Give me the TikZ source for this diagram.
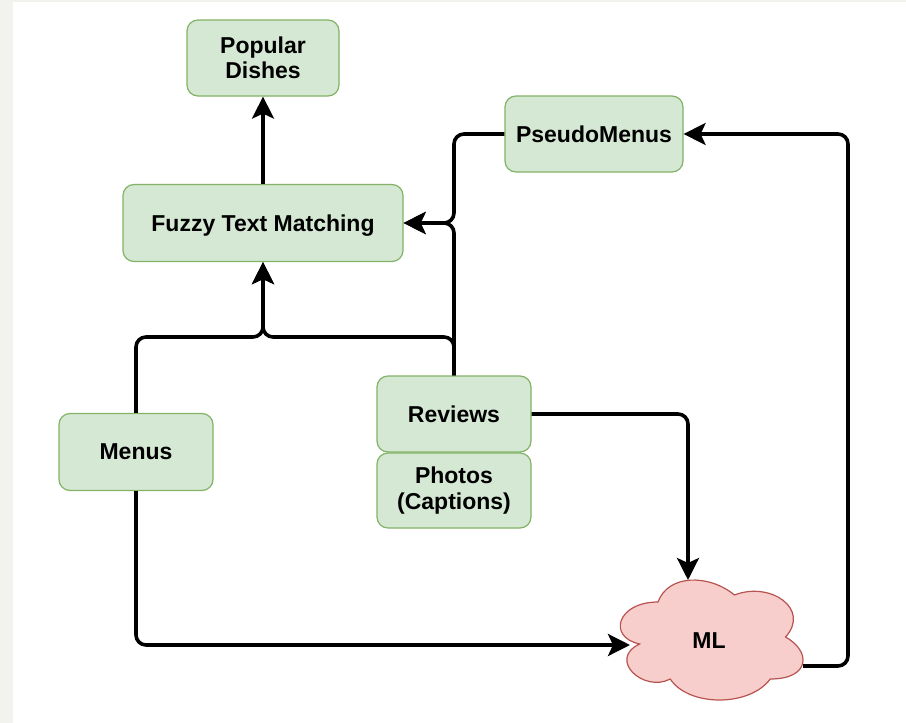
\documentclass[tikz,border=0pt]{standalone}
\usepackage{fontspec}
\setmainfont{Liberation Sans}
\usetikzlibrary{arrows.meta}
\definecolor{boxfill}{HTML}{D5E8D4}
\definecolor{boxline}{HTML}{82B366}
\definecolor{cloudfill}{HTML}{F8CECC}
\definecolor{cloudline}{HTML}{B85450}
\definecolor{marginstrip}{HTML}{F2F2EE}
\begin{document}
\begin{tikzpicture}[x=1pt,y=-1pt,
  stepbox/.style={draw=boxline, fill=boxfill, line width=1.2pt,
    rounded corners=11pt, inner sep=0pt, align=center,
    font=\fontsize{23}{25.5}\selectfont\bfseries},
  oneline/.style={text depth=0pt},
  conn/.style={line width=3.6pt, rounded corners=10pt,
    -{Stealth[length=22pt 0 0,width=22pt 0 0,inset=5pt 0]}}]
  % canvas and the thin grey margin on the left and top
  \useasboundingbox (0,0) rectangle (906,723);
  \fill[white] (0,0) rectangle (906,723);
  \fill[marginstrip] (0,0) rectangle (13,723);
  \fill[marginstrip] (0,0) rectangle (906,2);

  % boxes
  \node[stepbox, minimum width=152pt, minimum height=76pt] (popular) at (263,58) {Popular\\Dishes};
  \node[stepbox, oneline, minimum width=280pt, minimum height=77pt] (fuzzy) at (263,223) {Fuzzy Text Matching};
  \node[stepbox, oneline, minimum width=178pt, minimum height=76pt] (pseudo) at (594,134) {PseudoMenus};
  \node[stepbox, oneline, minimum width=154pt, minimum height=77pt] (menus) at (136,452) {Menus};
  \node[stepbox, oneline, minimum width=154pt, minimum height=76pt] (reviews) at (454,414) {Reviews};
  \node[stepbox, minimum width=154pt, minimum height=75pt] (photos) at (454,490.5) {Photos\\(Captions)};

  % cloud for the ML step
  \draw[fill=cloudfill, draw=cloudline, line width=1.2pt]
    (658,602) .. controls (617.2,602) and (607,637) .. (639.64,644)
    .. controls (607,659.4) and (643.72,693) .. (670.24,679)
    .. controls (688.6,707) and (749.8,707) .. (770.2,679)
    .. controls (811,679) and (811,651) .. (785.5,637)
    .. controls (811,609) and (770.2,581) .. (734.5,595)
    .. controls (709,574) and (668.2,574) .. (658,602) -- cycle;
  \node[font=\fontsize{23}{25.5}\selectfont\bfseries, text depth=0pt] (ml) at (709,641) {ML};
  \coordinate (ml-n) at (688,580);
  \coordinate (ml-w) at (630,645);
  \coordinate (ml-e) at (803,666);

  % junction points of the merged connectors
  \coordinate (join) at (263,337);
  \coordinate (bend) at (reviews.north |- fuzzy.east);

  % connectors
  \draw[conn] (fuzzy.north) -- (popular.south);
  \draw[conn] (menus.north) |- (join) -- (fuzzy.south);
  \draw[conn] (reviews.north) |- (join) -- (fuzzy.south);
  \draw[conn] (reviews.north) -- (bend) -- (fuzzy.east);
  \draw[conn] (pseudo.west) -| (bend) -- (fuzzy.east);
  \draw[conn] (reviews.east) -| (ml-n);
  \draw[conn] (menus.south) |- (ml-w);
  \draw[conn] (ml-e) -- ++(45,0) |- (pseudo.east);
\end{tikzpicture}
\end{document}
